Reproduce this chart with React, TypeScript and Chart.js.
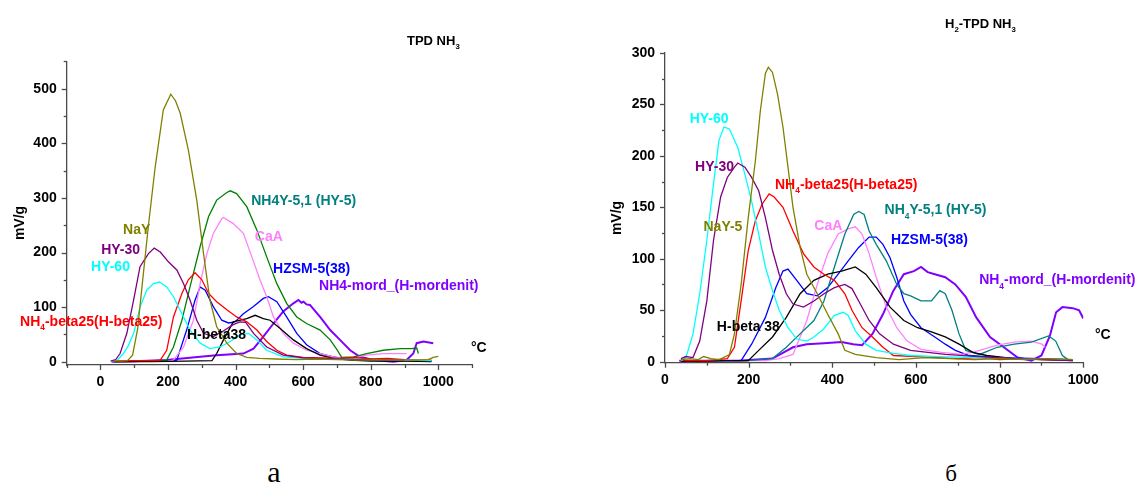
import React, { useEffect, useRef } from "react";
import { Chart, registerables } from "chart.js";

Chart.register(...registerables);

// ---------- Panel "а": TPD NH3 (temperature °C, signal mV/g) ----------
const naYTempA = [40, 60, 80, 95, 110, 125, 142, 162, 186, 208, 222, 236, 260, 285, 305, 324, 344, 374, 403, 433, 470, 520, 580, 640, 700, 760, 820, 880, 940, 970, 985, 1000];
const naYSignalA = [2, 1, 2, 12, 60, 150, 250, 357, 461, 490, 478, 455, 388, 296, 198, 113, 64, 34, 15, 8, 6, 5, 4, 5, 4, 3, 4, 3, 3, 4, 8, 10];

const hy30TempA = [30, 45, 58, 78, 98, 117, 142, 159, 177, 201, 226, 246, 265, 285, 305, 334, 360, 393, 413, 430, 453, 492, 541, 600, 700, 800, 900];
const hy30SignalA = [1, 4, 15, 52, 113, 174, 198, 208, 201, 183, 168, 143, 113, 76, 52, 46, 55, 68, 73, 72, 52, 27, 12, 7, 5, 4, 3];

const hy60TempA = [33, 50, 68, 83, 98, 117, 137, 157, 175, 196, 216, 241, 265, 295, 324, 354, 384, 413, 438, 463, 492, 541, 600, 700, 800, 900, 980];
const hy60SignalA = [1, 3, 15, 30, 52, 100, 131, 143, 146, 137, 119, 88, 58, 34, 24, 27, 37, 49, 52, 40, 21, 9, 6, 5, 4, 3, 2];

const beta25TempA = [40, 100, 160, 177, 196, 216, 241, 260, 280, 300, 320, 344, 374, 403, 433, 463, 492, 522, 551, 600, 650, 700, 750, 800, 850, 900, 950, 980];
const beta25SignalA = [1, 2, 2, 3, 21, 82, 125, 150, 163, 150, 125, 110, 95, 82, 73, 58, 37, 21, 12, 8, 7, 6, 8, 5, 6, 4, 3, 3];

const beta38TempA = [40, 150, 250, 330, 344, 364, 393, 433, 458, 482, 502, 532, 571, 610, 650, 689, 739, 800, 900, 980];
const beta38SignalA = [0, 0, 1, 2, 15, 40, 73, 79, 85, 79, 76, 61, 40, 24, 12, 6, 3, 1, 1, 0];

const hy5TempA = [40, 150, 196, 216, 241, 265, 295, 320, 344, 374, 384, 403, 433, 463, 492, 522, 551, 581, 610, 650, 680, 700, 714, 750, 788, 837, 887, 920, 936, 941];
const hy5SignalA = [0, 1, 3, 27, 76, 137, 211, 266, 296, 310, 313, 308, 284, 241, 192, 143, 107, 82, 70, 58, 40, 22, 8, 9, 15, 21, 24, 24, 25, 15];

const caATempA = [40, 200, 216, 246, 275, 295, 315, 334, 359, 364, 393, 423, 448, 472, 492, 512, 541, 571, 610, 650, 689, 739, 788, 837, 887, 906];
const caASignalA = [0, 1, 3, 27, 76, 143, 198, 235, 262, 264, 253, 235, 192, 150, 119, 82, 52, 34, 21, 15, 9, 6, 12, 15, 15, 15];

const zsmTempA = [40, 200, 226, 255, 280, 295, 310, 334, 359, 379, 398, 423, 453, 482, 497, 522, 551, 581, 610, 650, 689, 739, 800, 900, 980];
const zsmSignalA = [0, 1, 3, 58, 113, 137, 131, 101, 76, 71, 73, 88, 101, 116, 119, 110, 82, 52, 31, 15, 9, 4, 3, 2, 2];

const mordTempA = [33, 100, 196, 295, 344, 423, 453, 482, 512, 541, 571, 586, 595, 601, 610, 620, 650, 680, 709, 739, 768, 808, 867, 906, 926, 936, 956, 985];
const mordSignalA = [0, 1, 3, 9, 12, 15, 24, 46, 70, 92, 107, 113, 108, 110, 105, 104, 82, 58, 40, 21, 9, 3, 0, 3, 15, 34, 37, 34];

// ---------- Panel "б": H2-TPD NH3 ----------
const hy60TempB = [38, 50, 67, 83, 100, 116, 129, 141, 154, 174, 191, 207, 224, 240, 257, 273, 294, 315, 339, 356, 380, 405, 426, 438, 455, 480, 505, 546, 587, 650, 750, 850, 950, 975];
const hy60SignalB = [1, 4, 27, 66, 118, 173, 215, 228, 226, 208, 182, 156, 124, 92, 69, 50, 33, 22, 20, 24, 32, 45, 48, 45, 30, 17, 11, 8, 6, 5, 4, 3, 2, 2];

const hy30TempB = [38, 50, 67, 83, 100, 116, 133, 149, 166, 174, 191, 207, 224, 240, 257, 273, 290, 306, 331, 356, 380, 405, 430, 447, 463, 488, 513, 546, 587, 628, 670, 752, 835, 917, 975];
const hy30SignalB = [3, 5, 4, 20, 59, 118, 160, 179, 189, 193, 189, 179, 166, 140, 108, 85, 66, 56, 53, 59, 66, 72, 75, 71, 59, 40, 27, 17, 11, 9, 7, 5, 3, 2, 1];

const naYTempB = [38, 60, 80, 92, 110, 130, 154, 166, 182, 199, 216, 228, 240, 247, 257, 269, 282, 294, 306, 323, 339, 364, 389, 414, 430, 455, 505, 560, 620, 680, 740, 800, 860, 920, 975];
const naYSignalB = [2, 3, 2, 5, 3, 2, 7, 27, 75, 140, 195, 244, 280, 286, 281, 260, 228, 189, 150, 111, 85, 66, 46, 27, 11, 7, 4, 2, 4, 3, 2, 3, 2, 3, 2];

const beta25TempB = [38, 100, 149, 166, 182, 199, 216, 232, 249, 261, 282, 306, 331, 356, 380, 405, 430, 447, 471, 496, 521, 546, 600, 650, 700, 750, 800, 850, 900, 975];
const beta25SignalB = [1, 1, 3, 14, 59, 108, 137, 153, 163, 160, 150, 127, 105, 92, 85, 79, 66, 50, 33, 24, 14, 6, 5, 4, 3, 4, 2, 3, 2, 2];

const beta38TempB = [38, 150, 199, 224, 257, 290, 323, 356, 389, 422, 455, 480, 505, 538, 571, 604, 637, 670, 703, 736, 769, 835, 900, 975];
const beta38SignalB = [0, 1, 1, 11, 24, 43, 66, 79, 85, 88, 92, 85, 72, 53, 40, 33, 29, 24, 17, 9, 6, 3, 2, 1];

const zsmTempB = [38, 150, 182, 207, 240, 265, 282, 294, 315, 339, 364, 389, 414, 438, 463, 488, 505, 521, 538, 554, 571, 587, 612, 645, 670, 694, 727, 800, 900, 975];
const zsmSignalB = [0, 1, 1, 17, 43, 72, 88, 90, 79, 66, 64, 72, 85, 98, 111, 121, 121, 114, 101, 82, 59, 46, 33, 24, 17, 11, 6, 4, 3, 2];

const caATempB = [38, 200, 240, 273, 306, 339, 364, 389, 414, 438, 455, 471, 488, 505, 529, 554, 579, 612, 661, 711, 752, 794, 835, 876, 901, 909];
const caASignalB = [0, 1, 1, 3, 7, 40, 75, 105, 124, 129, 131, 124, 105, 82, 53, 33, 20, 12, 9, 7, 11, 16, 19, 20, 17, 14];

const hy5TempB = [38, 150, 199, 257, 290, 323, 356, 380, 405, 430, 451, 463, 476, 488, 505, 529, 554, 571, 587, 612, 637, 657, 670, 686, 703, 719, 752, 794, 835, 876, 917, 934, 950, 967];
const hy5SignalB = [0, 1, 1, 3, 14, 27, 40, 59, 92, 124, 143, 146, 143, 127, 114, 98, 75, 66, 64, 59, 59, 69, 66, 50, 27, 11, 7, 14, 17, 19, 25, 20, 6, 1];

const mordTempB = [34, 100, 174, 257, 306, 339, 380, 422, 450, 471, 496, 521, 546, 571, 595, 612, 628, 645, 670, 694, 719, 744, 777, 810, 843, 876, 900, 920, 935, 950, 975, 990, 1000];
const mordSignalB = [1, 1, 1, 3, 14, 17, 18, 19, 17, 16, 27, 46, 69, 85, 88, 92, 87, 85, 82, 75, 63, 43, 24, 14, 4, 1, 6, 25, 48, 53, 52, 50, 42];

// ---------- axis ticks ----------
const xMajorA = [0, 200, 400, 600, 800, 1000];
const xMinorA = [-100, 100, 300, 500, 700, 900, 1100];
const yMajorA = [0, 100, 200, 300, 400, 500];
const yMinorA = [50, 150, 250, 350, 450, 550];

const xMajorB = [0, 200, 400, 600, 800, 1000];
const xMinorB = [100, 300, 500, 700, 900];
const yMajorB = [0, 50, 100, 150, 200, 250, 300];
const yMinorB = [25, 75, 125, 175, 225, 275];

// ---------- colours ----------
const OLIVE = "#808000";
const PURPLE = "#800080";
const CYAN = "#00FFFF";
const RED = "#FF0000";
const BLACK = "#000000";
const GREEN = "#008000";
const TEAL = "#008080";
const PINK = "#FF80FF";
const BLUE = "#0000FF";
const VIOLET = "#8000FF";
const AXIS = "#4a4a4a";
const FONT = '"Liberation Sans", Arial, sans-serif';

type Part = { text: string; sub?: boolean };
type Note = { parts: Part[]; color: string; x: number; y: number };

const series = (label: string, color: string, temps: number[], vals: number[], width = 1.3) => ({
  label,
  borderColor: color,
  borderWidth: width,
  data: temps.map((t, i) => ({ x: t, y: vals[i] })),
  pointRadius: 0,
  tension: 0,
  fill: false,
});

const datasetsA = [
  series("NaY", OLIVE, naYTempA, naYSignalA),
  series("HY-30", PURPLE, hy30TempA, hy30SignalA),
  series("HY-60", CYAN, hy60TempA, hy60SignalA),
  series("NH4-beta25(H-beta25)", RED, beta25TempA, beta25SignalA),
  series("H-beta38", BLACK, beta38TempA, beta38SignalA),
  series("NH4Y-5,1 (HY-5)", GREEN, hy5TempA, hy5SignalA),
  series("CaA", PINK, caATempA, caASignalA),
  series("HZSM-5(38)", BLUE, zsmTempA, zsmSignalA),
  series("NH4-mord_(H-mordenit)", VIOLET, mordTempA, mordSignalA, 2),
];

const datasetsB = [
  series("NaY-5", OLIVE, naYTempB, naYSignalB),
  series("HY-30", PURPLE, hy30TempB, hy30SignalB),
  series("HY-60", CYAN, hy60TempB, hy60SignalB),
  series("NH4-beta25(H-beta25)", RED, beta25TempB, beta25SignalB),
  series("H-beta 38", BLACK, beta38TempB, beta38SignalB),
  series("NH4Y-5,1 (HY-5)", TEAL, hy5TempB, hy5SignalB),
  series("CaA", PINK, caATempB, caASignalB),
  series("HZSM-5(38)", BLUE, zsmTempB, zsmSignalB),
  series("NH4-mord_(H-mordenit)", VIOLET, mordTempB, mordSignalB, 2),
];

// curve captions, anchored in data coordinates (left edge, vertical middle)
const notesA: Note[] = [
  { parts: [{ text: "NaY" }], color: OLIVE, x: 67, y: 243 },
  { parts: [{ text: "HY-30" }], color: PURPLE, x: 2, y: 206 },
  { parts: [{ text: "HY-60" }], color: CYAN, x: -28, y: 175 },
  { parts: [{ text: "NH" }, { text: "4", sub: true }, { text: "-beta25(H-beta25)" }], color: RED, x: -238, y: 75 },
  { parts: [{ text: "H-beta38" }], color: BLACK, x: 256, y: 51 },
  { parts: [{ text: "NH4Y-5,1 (HY-5)" }], color: TEAL, x: 446, y: 296 },
  { parts: [{ text: "CaA" }], color: PINK, x: 457, y: 230 },
  { parts: [{ text: "HZSM-5(38)" }], color: BLUE, x: 511, y: 172 },
  { parts: [{ text: "NH4-mord_(H-mordenit)" }], color: VIOLET, x: 647, y: 140 },
];

const notesB: Note[] = [
  { parts: [{ text: "HY-60" }], color: CYAN, x: 59, y: 237 },
  { parts: [{ text: "HY-30" }], color: PURPLE, x: 72, y: 190 },
  { parts: [{ text: "NaY-5" }], color: OLIVE, x: 92, y: 132 },
  { parts: [{ text: "NH" }, { text: "4", sub: true }, { text: "-beta25(H-beta25)" }], color: RED, x: 263, y: 173 },
  { parts: [{ text: "CaA" }], color: PINK, x: 357, y: 133 },
  { parts: [{ text: "NH" }, { text: "4", sub: true }, { text: "Y-5,1 (HY-5)" }], color: TEAL, x: 525, y: 148 },
  { parts: [{ text: "HZSM-5(38)" }], color: BLUE, x: 540, y: 119 },
  { parts: [{ text: "NH" }, { text: "4", sub: true }, { text: "-mord_(H-mordenit)" }], color: VIOLET, x: 751, y: 80 },
  { parts: [{ text: "H-beta 38" }], color: BLACK, x: 124, y: 35 },
];

function drawParts(ctx: CanvasRenderingContext2D, parts: Part[], x: number, yMid: number, color: string, size: number) {
  let cx = x;
  const base = yMid + size * 0.36;
  ctx.fillStyle = color;
  ctx.textBaseline = "alphabetic";
  ctx.textAlign = "left";
  for (const p of parts) {
    const fs = p.sub ? size * 0.6 : size;
    ctx.font = `bold ${fs}px ${FONT}`;
    ctx.fillText(p.text, cx, base + (p.sub ? size * 0.3 : 0));
    cx += ctx.measureText(p.text).width;
  }
}

const overlayPlugin = {
  id: "overlay",
  afterDraw(chart: any, _args: any, opts: any) {
    const ctx: CanvasRenderingContext2D = chart.ctx;
    const xs = chart.scales.x;
    const ys = chart.scales.y;
    const area = chart.chartArea;
    ctx.save();
    // outward tick marks: long for labelled values, short in between
    ctx.strokeStyle = AXIS;
    ctx.lineWidth = 1.3;
    const tick = (vals: number[], len: number, horiz: boolean) => {
      for (const v of vals) {
        ctx.beginPath();
        if (horiz) {
          const px = Math.round(xs.getPixelForValue(v)) + 0.5;
          ctx.moveTo(px, area.bottom);
          ctx.lineTo(px, area.bottom + len);
        } else {
          const py = Math.round(ys.getPixelForValue(v)) + 0.5;
          ctx.moveTo(area.left, py);
          ctx.lineTo(area.left - len, py);
        }
        ctx.stroke();
      }
    };
    tick(opts.xMajor, 5, true);
    tick(opts.xMinor, 3, true);
    tick(opts.yMajor, 5, false);
    tick(opts.yMinor, 3, false);

    for (const n of opts.notes as Note[]) {
      drawParts(ctx, n.parts, xs.getPixelForValue(n.x), ys.getPixelForValue(n.y), n.color, 14);
    }
    drawParts(ctx, opts.title, opts.titlePos[0], opts.titlePos[1], BLACK, 13);
    drawParts(ctx, [{ text: "°C" }], opts.unitPos[0], opts.unitPos[1], BLACK, 14);

    // y-axis caption
    ctx.save();
    ctx.translate(opts.yTitlePos[0], opts.yTitlePos[1]);
    ctx.rotate(-Math.PI / 2);
    ctx.font = `bold 14px ${FONT}`;
    ctx.fillStyle = BLACK;
    ctx.textAlign = "center";
    ctx.textBaseline = "middle";
    ctx.fillText("mV/g", 0, 0);
    ctx.restore();
    ctx.restore();
  },
};

const plainNumber = (v: any) => String(v);

function makeConfig(p: any) {
  return {
    type: "line",
    data: { datasets: p.datasets },
    plugins: [overlayPlugin],
    options: {
      animation: false,
      responsive: false,
      events: [],
      layout: { padding: { left: 0, top: p.top, right: p.right, bottom: 0 } },
      plugins: {
        legend: { display: false },
        tooltip: { enabled: false },
        overlay: {
          notes: p.notes,
          xMajor: p.xMajor,
          xMinor: p.xMinor,
          yMajor: p.yMajor,
          yMinor: p.yMinor,
          title: p.title,
          titlePos: p.titlePos,
          unitPos: p.unitPos,
          yTitlePos: p.yTitlePos,
        },
      },
      scales: {
        x: {
          type: "linear",
          min: p.xMin,
          max: p.xMax,
          afterBuildTicks: (s: any) => {
            s.ticks = p.xMajor.map((v: number) => ({ value: v }));
          },
          afterFit: (s: any) => {
            s.height = p.xAxisHeight;
          },
          grid: { display: false, drawTicks: false, tickLength: 0 },
          border: { display: true, color: AXIS, width: 1.3 },
          ticks: {
            padding: 9,
            color: "#000",
            autoSkip: false,
            maxRotation: 0,
            callback: plainNumber,
            font: { family: FONT, size: 14, weight: "bold" },
          },
        },
        y: {
          type: "linear",
          min: p.yMin,
          max: p.yMax,
          afterBuildTicks: (s: any) => {
            s.ticks = p.yMajor.map((v: number) => ({ value: v }));
          },
          afterFit: (s: any) => {
            s.width = p.yAxisWidth;
          },
          grid: { display: false, drawTicks: false, tickLength: 0 },
          border: { display: true, color: AXIS, width: 1.3 },
          ticks: {
            padding: 10,
            color: "#000",
            autoSkip: false,
            callback: plainNumber,
            font: { family: FONT, size: 14, weight: "bold" },
          },
        },
      },
    },
  };
}

function Panel(props: { cfg: any; left: number }) {
  const ref = useRef<HTMLCanvasElement>(null);
  useEffect(() => {
    if (!ref.current) return;
    const chart = new Chart(ref.current, makeConfig(props.cfg) as any);
    return () => chart.destroy();
  }, []);
  return (
    <canvas
      ref={ref}
      width={571}
      height={400}
      style={{ position: "absolute", left: props.left, top: 0, width: 571, height: 400 }}
    />
  );
}

const panelA = {
  datasets: datasetsA,
  notes: notesA,
  xMin: -100,
  xMax: 1100,
  yMin: -6,
  yMax: 550,
  xMajor: xMajorA,
  xMinor: xMinorA,
  yMajor: yMajorA,
  yMinor: yMinorA,
  top: 61.4,
  right: 98.9,
  yAxisWidth: 66.7,
  xAxisHeight: 35,
  title: [{ text: "TPD NH" }, { text: "3", sub: true }],
  titlePos: [407, 40],
  unitPos: [471, 347],
  yTitlePos: [20, 223],
};

const panelB = {
  datasets: datasetsB,
  notes: notesB,
  xMin: 0,
  xMax: 1000,
  yMin: -1,
  yMax: 300,
  xMajor: xMajorB,
  xMinor: xMinorB,
  yMajor: yMajorB,
  yMinor: yMinorB,
  top: 52.9,
  right: 58.7,
  yAxisWidth: 94,
  xAxisHeight: 37.3,
  title: [{ text: "H" }, { text: "2", sub: true }, { text: "-TPD NH" }, { text: "3", sub: true }],
  titlePos: [374, 23],
  unitPos: [524, 334],
  yTitlePos: [46, 218],
};

export default function App() {
  const letter = (ch: string, center: number, size: number, top: number) => (
    <div
      style={{
        position: "absolute",
        left: center - 50,
        width: 100,
        top,
        textAlign: "center",
        fontFamily: '"Liberation Serif", "Times New Roman", serif',
        fontSize: size,
        lineHeight: `${size}px`,
        color: "#000",
      }}
    >
      {ch}
    </div>
  );
  return (
    <div
      style={{
        position: "fixed",
        left: 0,
        top: 0,
        width: 1142,
        height: 482,
        background: "#fff",
        overflow: "hidden",
      }}
    >
      <Panel cfg={panelA} left={0} />
      <Panel cfg={panelB} left={571} />
      {letter("а", 274, 30, 457)}
      {letter("б", 951, 23, 462)}
    </div>
  );
}
